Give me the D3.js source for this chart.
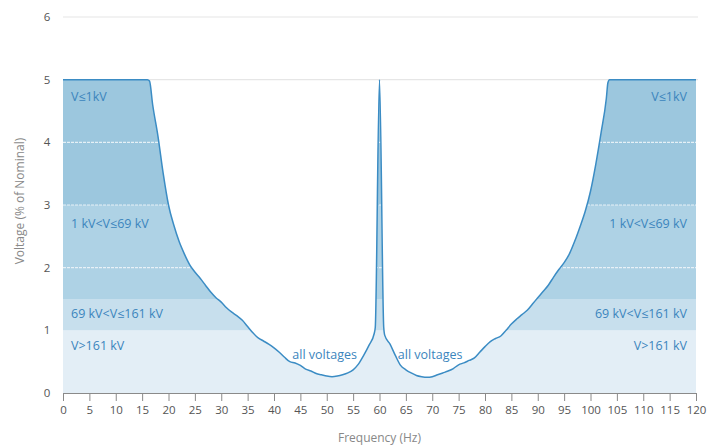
<!DOCTYPE html>
<html><head><meta charset="utf-8">
<script src="https://cdn.jsdelivr.net/npm/d3@7"></script>
<style>body{margin:0;background:#fff;}svg{display:block;font-family:"Open Sans","Noto Sans",sans-serif;}</style>
</head><body><div id="chart"></div>
<script>
const freq = [0,16,16.4,17,18,19,20,21,22,23,24,25,26,27,28,29,30,31,32,33,34,35,36,37,38,39,40,41,42,43,44,45,46,47,48,49,50,51,52,53,54,55,56,57,58,59,59.2,60,60.8,61,62,63,64,65,66,67,68,69,70,71,72,73,74,75,76,77,78,79,80,81,82,83,84,85,86,87,88,89,90,91,92,93,94,95,96,97,98,99,100,101,102,103,103.3,103.6,120];
const voltage = [5,5,4.98,4.6,4.1,3.5,3.0,2.68,2.42,2.22,2.05,1.93,1.83,1.72,1.61,1.52,1.45,1.36,1.29,1.23,1.16,1.06,0.96,0.88,0.83,0.78,0.72,0.65,0.57,0.5,0.48,0.44,0.38,0.35,0.31,0.29,0.27,0.26,0.27,0.29,0.32,0.37,0.46,0.6,0.76,0.95,1.05,5,1.05,0.92,0.78,0.6,0.44,0.37,0.32,0.28,0.26,0.25,0.26,0.29,0.32,0.35,0.39,0.45,0.48,0.52,0.56,0.65,0.74,0.82,0.87,0.91,1.0,1.1,1.18,1.25,1.32,1.42,1.52,1.62,1.72,1.85,1.97,2.08,2.22,2.42,2.65,2.9,3.22,3.65,4.15,4.7,4.95,5,5];
const bandNames = ["V>161 kV","69 kV<V≤161 kV","1 kV<V≤69 kV","V≤1kV"];
const bandLow = [0,1,1.5,3];
const bandHigh = [1,1.5,3,5];
const bandColors = ["#e3eef6","#c7dfed","#aed2e5","#9cc7de"];
const bandLabelY = [0.75,1.27,2.7,4.73];
const xTicks = d3.range(0,121,5);
const yTicks = [0,1,2,3,4,5,6];
const whiteLines = [2,3,4];
const gridLines = [5,6];

const W=722,H=447;
const m={l:63,r:26,t:17,b:54};
const svg=d3.select("#chart").append("svg").attr("width",W).attr("height",H);
const x=d3.scaleLinear().domain([0,120]).range([m.l,W-m.r]);
const y=d3.scaleLinear().domain([0,6]).range([H-m.b,m.t]);
const data=freq.map((f,i)=>({f,v:voltage[i]}));

svg.selectAll(".grid").data(gridLines).enter().append("line")
 .attr("x1",x(0)).attr("x2",x(120)+2).attr("y1",d=>y(d)).attr("y2",d=>y(d))
 .attr("stroke","#e6e6e6").attr("stroke-width",1.2);

const area=d3.area().x(d=>x(d.f)).y0(y(0)).y1(d=>y(d.v)).curve(d3.curveMonotoneX);
svg.append("clipPath").attr("id","under").append("path").datum(data).attr("d",area);
const g=svg.append("g").attr("clip-path","url(#under)");
g.selectAll("rect").data(bandLow).enter().append("rect")
 .attr("x",x(0)).attr("width",x(120)-x(0))
 .attr("y",(d,i)=>y(bandHigh[i])).attr("height",(d,i)=>y(bandLow[i])-y(bandHigh[i]))
 .attr("fill",(d,i)=>bandColors[i]);
g.selectAll(".wl").data(whiteLines).enter().append("line")
 .attr("x1",x(0)).attr("x2",x(120)).attr("y1",d=>y(d)).attr("y2",d=>y(d))
 .attr("stroke","#f2f7fb").attr("stroke-width",1.2).attr("stroke-dasharray","3,1").attr("opacity",0.85);

const line=d3.line().x(d=>x(d.f)).y(d=>y(d.v)).curve(d3.curveMonotoneX);
svg.append("path").datum(data).attr("d",line).attr("fill","none").attr("stroke","#3b8cc4").attr("stroke-width",1.5);

const lab=svg.append("g").attr("fill","#3b85bd").attr("font-size",12.5);
bandNames.forEach((n,i)=>{
  lab.append("text").attr("x",x(0)+8).attr("y",y(bandLabelY[i])).attr("dy","0.35em").text(n);
  lab.append("text").attr("x",x(120)-9).attr("y",y(bandLabelY[i])).attr("dy","0.35em").attr("text-anchor","end").text(n);
});
lab.append("text").attr("x",x(49.6)).attr("y",y(0.62)).attr("dy","0.35em").attr("text-anchor","middle").text("all voltages");
lab.append("text").attr("x",x(69.6)).attr("y",y(0.62)).attr("dy","0.35em").attr("text-anchor","middle").text("all voltages");

const xa=svg.append("g").attr("transform",`translate(0,${y(0)})`)
 .call(d3.axisBottom(x).tickValues(xTicks).tickSize(8).tickSizeOuter(0).tickPadding(5));
xa.select(".domain").attr("stroke","#8a8a8a");
xa.selectAll(".tick line").attr("stroke","#8a8a8a");
xa.selectAll("text").attr("fill","#555").attr("font-size",11.5).attr("font-family","'Open Sans',sans-serif");

svg.selectAll(".yl").data(yTicks).enter().append("text")
 .attr("x",47).attr("y",d=>y(d)).attr("dy","0.35em").attr("text-anchor","middle")
 .attr("fill","#555").attr("font-size",11.5).text(d=>d);

svg.append("text").attr("transform",`translate(24,201) rotate(-90)`)
 .attr("text-anchor","middle").attr("fill","#888").attr("font-size",12).text("Voltage (% of Nominal)");
svg.append("text").attr("x",(x(0)+x(120))/2).attr("y",442).attr("text-anchor","middle")
 .attr("fill","#888").attr("font-size",12).text("Frequency (Hz)");
</script></body></html>
